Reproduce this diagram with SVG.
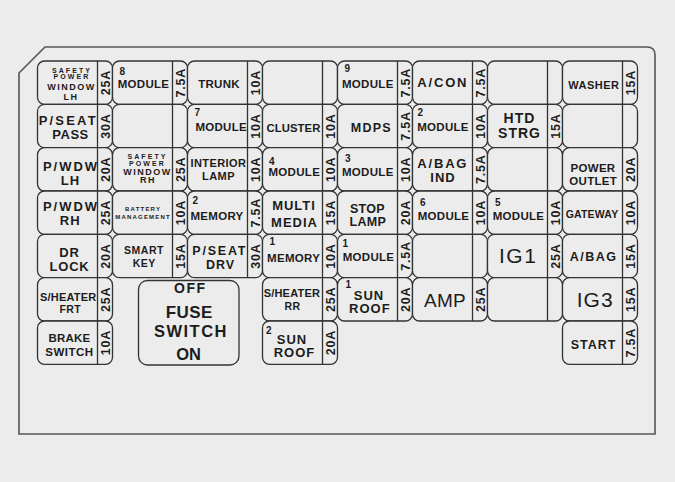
<svg xmlns="http://www.w3.org/2000/svg" width="675" height="482" viewBox="0 0 675 482">
<style>
.bg{fill:#ececec}
.fr{fill:#ececec;stroke:#555;stroke-width:1.6}
.bx{fill:#ececec;stroke:#333;stroke-width:1.3}
.dv{stroke:#333;stroke-width:1.3}
text{font-family:"Liberation Sans",Arial,sans-serif;font-weight:bold;fill:#1c1c1c;text-anchor:middle}
.a{font-size:12.5px;letter-spacing:0.8px}
.m{font-size:11.5px;letter-spacing:0.3px}
.l{font-size:13px;letter-spacing:1px}
.n{font-size:10px;text-anchor:start}
.s7{font-size:7px;letter-spacing:2.1px}
.s9{font-size:9px;letter-spacing:1.5px}
.s6{font-size:6px;letter-spacing:1.2px}
.big{font-size:21px;letter-spacing:1.5px}
</style>
<rect class="bg" x="0" y="0" width="675" height="482"/>
<path class="fr" d="M19,434 L19,73 L45,47 L647,47 Q655,47 655,55 L655,434 Z"/>
<g id="connectors"><line x1="200" y1="112.3" x2="252.5" y2="112.3" stroke="#333" stroke-width="1"/></g>

<!-- Row 1 -->
<g id="r1c1"><rect class="bx" x="37.5" y="61" width="75" height="43.33" rx="7"/><line class="dv" x1="97.5" y1="61" x2="97.5" y2="104.33"/>
<text class="s7" x="72" y="73.3">SAFETY</text><text class="s7" x="72" y="79.3">POWER</text><text class="s9" x="71.5" y="90">WINDOW</text><text class="s9" x="71" y="99.5">LH</text>
<text class="a" transform="translate(105,82.7) rotate(-90)" y="4.5">25A</text></g>
<g id="r1c2"><rect class="bx" x="112.5" y="61" width="75" height="43.33" rx="7"/><line class="dv" x1="172.5" y1="61" x2="172.5" y2="104.33"/>
<text class="n" x="119.5" y="74.5">8</text><text class="m" x="143.5" y="88.3">MODULE</text>
<text class="a" transform="translate(180,82.7) rotate(-90)" y="4.5">7.5A</text></g>
<g id="r1c3"><rect class="bx" x="187.5" y="61" width="75" height="43.33" rx="7"/><line class="dv" x1="247.5" y1="61" x2="247.5" y2="104.33"/>
<text class="m" x="219" y="88">TRUNK</text>
<text class="a" transform="translate(255,82.7) rotate(-90)" y="4.5">10A</text></g>
<g id="r1c4"><rect class="bx" x="262.5" y="61" width="75" height="43.33" rx="7"/><line class="dv" x1="322.5" y1="61" x2="322.5" y2="104.33"/></g>
<g id="r1c5"><rect class="bx" x="337.5" y="61" width="75" height="43.33" rx="7"/><line class="dv" x1="397.5" y1="61" x2="397.5" y2="104.33"/>
<text class="n" x="344.5" y="72">9</text><text class="m" x="367.8" y="88.3">MODULE</text>
<text class="a" transform="translate(405,82.7) rotate(-90)" y="4.5">7.5A</text></g>
<g id="r1c6"><rect class="bx" x="412.5" y="61" width="75" height="43.33" rx="7"/><line class="dv" x1="472.5" y1="61" x2="472.5" y2="104.33"/>
<text class="l" x="442.8" y="86.7" style="letter-spacing:1.8px">A/CON</text>
<text class="a" transform="translate(480,82.7) rotate(-90)" y="4.5">7.5A</text></g>
<g id="r1c7"><rect class="bx" x="487.5" y="61" width="75" height="43.33" rx="7"/><line class="dv" x1="547.5" y1="61" x2="547.5" y2="104.33"/></g>
<g id="r1c8"><rect class="bx" x="562.5" y="61" width="75" height="43.33" rx="7"/><line class="dv" x1="622.5" y1="61" x2="622.5" y2="104.33"/>
<text class="m" x="593.8" y="89.3" style="font-size:11px;letter-spacing:0.5px">WASHER</text>
<text class="a" transform="translate(630,82.7) rotate(-90)" y="4.5">15A</text></g>

<!-- Row 2 -->
<g id="r2c1"><rect class="bx" x="37.5" y="104.33" width="75" height="43.33" rx="7"/><line class="dv" x1="97.5" y1="104.33" x2="97.5" y2="147.67"/>
<text class="l" x="68.3" y="125" style="letter-spacing:2.2px">P/SEAT</text><text class="l" x="70.5" y="139" style="letter-spacing:0.5px">PASS</text>
<text class="a" transform="translate(105,126) rotate(-90)" y="4.5">30A</text></g>
<g id="r2c2"><rect class="bx" x="112.5" y="104.33" width="75" height="43.33" rx="7"/><line class="dv" x1="172.5" y1="104.33" x2="172.5" y2="147.67"/></g>
<g id="r2c3"><rect class="bx" x="187.5" y="104.33" width="75" height="43.33" rx="7"/><line class="dv" x1="247.5" y1="104.33" x2="247.5" y2="147.67"/>
<text class="n" x="194.5" y="115.5">7</text><text class="m" x="221.2" y="130.7">MODULE</text>
<text class="a" transform="translate(255,126) rotate(-90)" y="4.5">10A</text></g>
<g id="r2c4"><rect class="bx" x="262.5" y="104.33" width="75" height="43.33" rx="7"/><line class="dv" x1="322.5" y1="104.33" x2="322.5" y2="147.67"/>
<text class="m" x="293.5" y="131.5" style="font-size:11.3px;letter-spacing:0.1px">CLUSTER</text>
<text class="a" transform="translate(330,126) rotate(-90)" y="4.5">10A</text></g>
<g id="r2c5"><rect class="bx" x="337.5" y="104.33" width="75" height="43.33" rx="7"/><line class="dv" x1="397.5" y1="104.33" x2="397.5" y2="147.67"/>
<text class="m" x="371.3" y="131.5" style="font-size:12.5px;letter-spacing:1.2px">MDPS</text>
<text class="a" transform="translate(405,126) rotate(-90)" y="4.5">7.5A</text></g>
<g id="r2c6"><rect class="bx" x="412.5" y="104.33" width="75" height="43.33" rx="7"/><line class="dv" x1="472.5" y1="104.33" x2="472.5" y2="147.67"/>
<text class="n" x="417.5" y="116">2</text><text class="m" x="443" y="130.7">MODULE</text>
<text class="a" transform="translate(480,126) rotate(-90)" y="4.5">10A</text></g>
<g id="r2c7"><rect class="bx" x="487.5" y="104.33" width="75" height="43.33" rx="7"/><line class="dv" x1="547.5" y1="104.33" x2="547.5" y2="147.67"/>
<text class="l" x="519.5" y="123.3" style="font-size:14px">HTD</text><text class="l" x="519.5" y="137.7" style="font-size:14px">STRG</text>
<text class="a" transform="translate(555,126) rotate(-90)" y="4.5">15A</text></g>
<g id="r2c8"><rect class="bx" x="562.5" y="104.33" width="75" height="43.33" rx="7"/><line class="dv" x1="622.5" y1="104.33" x2="622.5" y2="147.67"/></g>

<!-- Row 3 -->
<g id="r3c1"><rect class="bx" x="37.5" y="147.67" width="75" height="43.33" rx="7"/><line class="dv" x1="97.5" y1="147.67" x2="97.5" y2="191"/>
<text class="l" x="71" y="171.3" style="letter-spacing:2px">P/WDW</text><text class="l" x="70.5" y="185">LH</text>
<text class="a" transform="translate(105,169.3) rotate(-90)" y="4.5">20A</text></g>
<g id="r3c2"><rect class="bx" x="112.5" y="147.67" width="75" height="43.33" rx="7"/><line class="dv" x1="172.5" y1="147.67" x2="172.5" y2="191"/>
<text class="s7" x="147.5" y="159.3">SAFETY</text><text class="s7" x="147.5" y="165.5">POWER</text><text class="s9" x="147.5" y="174.8">WINDOW</text><text class="s9" x="148" y="183.3">RH</text>
<text class="a" transform="translate(180,169.3) rotate(-90)" y="4.5">25A</text></g>
<g id="r3c3"><rect class="bx" x="187.5" y="147.67" width="75" height="43.33" rx="7"/><line class="dv" x1="247.5" y1="147.67" x2="247.5" y2="191"/>
<text class="m" x="218.4" y="166.7" style="font-size:11px;letter-spacing:0.4px">INTERIOR</text><text class="m" x="218.5" y="180" style="font-size:11px;letter-spacing:0.4px">LAMP</text>
<text class="a" transform="translate(255,169.3) rotate(-90)" y="4.5">10A</text></g>
<g id="r3c4"><rect class="bx" x="262.5" y="147.67" width="75" height="43.33" rx="7"/><line class="dv" x1="322.5" y1="147.67" x2="322.5" y2="191"/>
<text class="n" x="269" y="165">4</text><text class="m" x="294.3" y="176">MODULE</text>
<text class="a" transform="translate(330,169.3) rotate(-90)" y="4.5">10A</text></g>
<g id="r3c5"><rect class="bx" x="337.5" y="147.67" width="75" height="43.33" rx="7"/><line class="dv" x1="397.5" y1="147.67" x2="397.5" y2="191"/>
<text class="n" x="345" y="161.7">3</text><text class="m" x="367.8" y="176">MODULE</text>
<text class="a" transform="translate(405,169.3) rotate(-90)" y="4.5">10A</text></g>
<g id="r3c6"><rect class="bx" x="412.5" y="147.67" width="75" height="43.33" rx="7"/><line class="dv" x1="472.5" y1="147.67" x2="472.5" y2="191"/>
<text class="l" x="442.8" y="168" style="letter-spacing:1.8px">A/BAG</text><text class="l" x="443" y="181.7">IND</text>
<text class="a" transform="translate(480,169.3) rotate(-90)" y="4.5">7.5A</text></g>
<g id="r3c7"><rect class="bx" x="487.5" y="147.67" width="75" height="43.33" rx="7"/><line class="dv" x1="547.5" y1="147.67" x2="547.5" y2="191"/></g>
<g id="r3c8"><rect class="bx" x="562.5" y="147.67" width="75" height="43.33" rx="7"/><line class="dv" x1="622.5" y1="147.67" x2="622.5" y2="191"/>
<text class="m" x="593" y="171.7" style="letter-spacing:0.3px">POWER</text><text class="m" x="593.2" y="185" style="letter-spacing:0.3px">OUTLET</text>
<text class="a" transform="translate(630,169.3) rotate(-90)" y="4.5">20A</text></g>

<!-- Row 4 -->
<g id="r4c1"><rect class="bx" x="37.5" y="191" width="75" height="43.33" rx="7"/><line class="dv" x1="97.5" y1="191" x2="97.5" y2="234.33"/>
<text class="l" x="71" y="211.2" style="letter-spacing:2px">P/WDW</text><text class="l" x="70.2" y="225.2">RH</text>
<text class="a" transform="translate(105,212.7) rotate(-90)" y="4.5">25A</text></g>
<g id="r4c2"><rect class="bx" x="112.5" y="191" width="75" height="43.33" rx="7"/><line class="dv" x1="172.5" y1="191" x2="172.5" y2="234.33"/>
<text class="s6" x="143.1" y="211">BATTERY</text><text class="s6" x="143.1" y="218.7">MANAGEMENT</text>
<text class="a" transform="translate(180,212.7) rotate(-90)" y="4.5">10A</text></g>
<g id="r4c3"><rect class="bx" x="187.5" y="191" width="75" height="43.33" rx="7"/><line class="dv" x1="247.5" y1="191" x2="247.5" y2="234.33"/>
<text class="n" x="192.5" y="203.5">2</text><text class="m" x="217" y="220">MEMORY</text>
<text class="a" transform="translate(255,212.7) rotate(-90)" y="4.5">7.5A</text></g>
<g id="r4c4"><rect class="bx" x="262.5" y="191" width="75" height="43.33" rx="7"/><line class="dv" x1="322.5" y1="191" x2="322.5" y2="234.33"/>
<text class="l" x="294" y="210">MULTI</text><text class="l" x="294.5" y="226.7">MEDIA</text>
<text class="a" transform="translate(330,212.7) rotate(-90)" y="4.5">15A</text></g>
<g id="r4c5"><rect class="bx" x="337.5" y="191" width="75" height="43.33" rx="7"/><line class="dv" x1="397.5" y1="191" x2="397.5" y2="234.33"/>
<text class="l" x="367.5" y="213" style="font-size:12.5px;letter-spacing:0.3px">STOP</text><text class="l" x="367.9" y="226.2" style="font-size:12.5px;letter-spacing:0.3px">LAMP</text>
<text class="a" transform="translate(405,212.7) rotate(-90)" y="4.5">20A</text></g>
<g id="r4c6"><rect class="bx" x="412.5" y="191" width="75" height="43.33" rx="7"/><line class="dv" x1="472.5" y1="191" x2="472.5" y2="234.33"/>
<text class="n" x="420" y="206">6</text><text class="m" x="443.5" y="220">MODULE</text>
<text class="a" transform="translate(480,212.7) rotate(-90)" y="4.5">10A</text></g>
<g id="r4c7"><rect class="bx" x="487.5" y="191" width="75" height="43.33" rx="7"/><line class="dv" x1="547.5" y1="191" x2="547.5" y2="234.33"/>
<text class="n" x="495" y="206">5</text><text class="m" x="518.5" y="220">MODULE</text>
<text class="a" transform="translate(555,212.7) rotate(-90)" y="4.5">10A</text></g>
<g id="r4c8"><rect class="bx" x="562.5" y="191" width="75" height="43.33" rx="7"/><line class="dv" x1="622.5" y1="191" x2="622.5" y2="234.33"/>
<text class="m" x="592" y="217.7" style="font-size:10.5px;letter-spacing:0.2px">GATEWAY</text>
<text class="a" transform="translate(630,212.7) rotate(-90)" y="4.5">10A</text></g>

<!-- Row 5 -->
<g id="r5c1"><rect class="bx" x="37.5" y="234.33" width="75" height="43.33" rx="7"/><line class="dv" x1="97.5" y1="234.33" x2="97.5" y2="277.67"/>
<text class="l" x="69.5" y="256.5" style="letter-spacing:0.8px">DR</text><text class="l" x="69.5" y="270.7" style="letter-spacing:0.8px">LOCK</text>
<text class="a" transform="translate(105,256) rotate(-90)" y="4.5">20A</text></g>
<g id="r5c2"><rect class="bx" x="112.5" y="234.33" width="75" height="43.33" rx="7"/><line class="dv" x1="172.5" y1="234.33" x2="172.5" y2="277.67"/>
<text class="m" x="144" y="254" style="font-size:10.5px;letter-spacing:0.5px">SMART</text><text class="m" x="144.2" y="266.7" style="font-size:10.5px;letter-spacing:0.5px">KEY</text>
<text class="a" transform="translate(180,256) rotate(-90)" y="4.5">15A</text></g>
<g id="r5c3"><rect class="bx" x="187.5" y="234.33" width="75" height="43.33" rx="7"/><line class="dv" x1="247.5" y1="234.33" x2="247.5" y2="277.67"/>
<text class="l" x="219.8" y="255.3" style="font-size:12.5px;letter-spacing:1.8px">P/SEAT</text><text class="l" x="220.5" y="268.5" style="font-size:12.5px">DRV</text>
<text class="a" transform="translate(255,256) rotate(-90)" y="4.5">30A</text></g>
<g id="r5c4"><rect class="bx" x="262.5" y="234.33" width="75" height="43.33" rx="7"/><line class="dv" x1="322.5" y1="234.33" x2="322.5" y2="277.67"/>
<text class="n" x="269.5" y="245">1</text><text class="m" x="293.6" y="261.7">MEMORY</text>
<text class="a" transform="translate(330,256) rotate(-90)" y="4.5">10A</text></g>
<g id="r5c5"><rect class="bx" x="337.5" y="234.33" width="75" height="43.33" rx="7"/><line class="dv" x1="397.5" y1="234.33" x2="397.5" y2="277.67"/>
<text class="n" x="342.5" y="246.5">1</text><text class="m" x="368.5" y="261">MODULE</text>
<text class="a" transform="translate(405,256) rotate(-90)" y="4.5">7.5A</text></g>
<g id="r5c6"><rect class="bx" x="412.5" y="234.33" width="75" height="43.33" rx="7"/><line class="dv" x1="472.5" y1="234.33" x2="472.5" y2="277.67"/></g>
<g id="r5c7"><rect class="bx" x="487.5" y="234.33" width="75" height="43.33" rx="7"/><line class="dv" x1="547.5" y1="234.33" x2="547.5" y2="277.67"/>
<text class="big" x="518.2" y="263.3" style="font-weight:normal">IG1</text>
<text class="a" transform="translate(555,256) rotate(-90)" y="4.5">25A</text></g>
<g id="r5c8"><rect class="bx" x="562.5" y="234.33" width="75" height="43.33" rx="7"/><line class="dv" x1="622.5" y1="234.33" x2="622.5" y2="277.67"/>
<text class="l" x="593.7" y="260.7" style="font-size:12.5px;letter-spacing:1.5px">A/BAG</text>
<text class="a" transform="translate(630,256) rotate(-90)" y="4.5">15A</text></g>

<!-- Row 6 -->
<g id="r6c1"><rect class="bx" x="37.5" y="277.67" width="75" height="43.33" rx="7"/><line class="dv" x1="97.5" y1="277.67" x2="97.5" y2="321"/>
<text class="m" x="68.2" y="301.3" style="font-size:11px;letter-spacing:0.2px">S/HEATER</text><text class="m" x="70.2" y="312.7" style="font-size:10.5px">FRT</text>
<text class="a" transform="translate(105,299.3) rotate(-90)" y="4.5">25A</text></g>
<g id="fuse-switch"><rect class="bx" x="138.5" y="280.5" width="100.5" height="84.5" rx="9"/>
<text x="190.3" y="293.3" style="font-size:14px;letter-spacing:1.5px">OFF</text>
<text x="189.2" y="317.7" style="font-size:17px;letter-spacing:0.4px">FUSE</text>
<text x="191" y="336.7" style="font-size:16.5px;letter-spacing:1.5px">SWITCH</text>
<text x="188.5" y="360" style="font-size:16.5px">ON</text></g>
<g id="r6c4"><rect class="bx" x="262.5" y="277.67" width="75" height="43.33" rx="7"/><line class="dv" x1="322.5" y1="277.67" x2="322.5" y2="321"/>
<text class="m" x="291.9" y="297.3" style="font-size:11px;letter-spacing:0.2px">S/HEATER</text><text class="m" x="292.5" y="310" style="font-size:10.5px">RR</text>
<text class="a" transform="translate(330,299.3) rotate(-90)" y="4.5">25A</text></g>
<g id="r6c5"><rect class="bx" x="337.5" y="277.67" width="75" height="43.33" rx="7"/><line class="dv" x1="397.5" y1="277.67" x2="397.5" y2="321"/>
<text class="n" x="345.5" y="288.3">1</text><text class="l" x="369" y="299.8">SUN</text><text class="l" x="369.8" y="313.3">ROOF</text>
<text class="a" transform="translate(405,299.3) rotate(-90)" y="4.5">20A</text></g>
<g id="r6c6"><rect class="bx" x="412.5" y="277.67" width="75" height="43.33" rx="7"/><line class="dv" x1="472.5" y1="277.67" x2="472.5" y2="321"/>
<text class="big" x="445" y="307.3" style="font-size:19px;letter-spacing:0.3px;font-weight:normal">AMP</text>
<text class="a" transform="translate(480,299.3) rotate(-90)" y="4.5">25A</text></g>
<g id="r6c7"><rect class="bx" x="487.5" y="277.67" width="75" height="43.33" rx="7"/><line class="dv" x1="547.5" y1="277.67" x2="547.5" y2="321"/></g>
<g id="r6c8"><rect class="bx" x="562.5" y="277.67" width="75" height="43.33" rx="7"/><line class="dv" x1="622.5" y1="277.67" x2="622.5" y2="321"/>
<text class="big" x="595.2" y="307.3" style="letter-spacing:1px;font-weight:normal">IG3</text>
<text class="a" transform="translate(630,299.3) rotate(-90)" y="4.5">15A</text></g>

<!-- Row 7 -->
<g id="r7c1"><rect class="bx" x="37.5" y="321" width="75" height="43.33" rx="7"/><line class="dv" x1="97.5" y1="321" x2="97.5" y2="364.33"/>
<text class="m" x="69.5" y="341.7" style="letter-spacing:0.2px">BRAKE</text><text class="m" x="69.5" y="356" style="letter-spacing:0.5px">SWITCH</text>
<text class="a" transform="translate(105,342.7) rotate(-90)" y="4.5">10A</text></g>
<g id="r7c4"><rect class="bx" x="262.5" y="321" width="75" height="43.33" rx="7"/><line class="dv" x1="322.5" y1="321" x2="322.5" y2="364.33"/>
<text class="n" x="266" y="334">2</text><text class="l" x="292" y="343.8">SUN</text><text class="l" x="294.5" y="357.4">ROOF</text>
<text class="a" transform="translate(330,342.7) rotate(-90)" y="4.5">20A</text></g>
<g id="r7c8"><rect class="bx" x="562.5" y="321" width="75" height="43.33" rx="7"/><line class="dv" x1="622.5" y1="321" x2="622.5" y2="364.33"/>
<text class="l" x="593.5" y="349.3" style="font-size:12.5px">START</text>
<text class="a" transform="translate(630,342.7) rotate(-90)" y="4.5">7.5A</text></g>
</svg>
